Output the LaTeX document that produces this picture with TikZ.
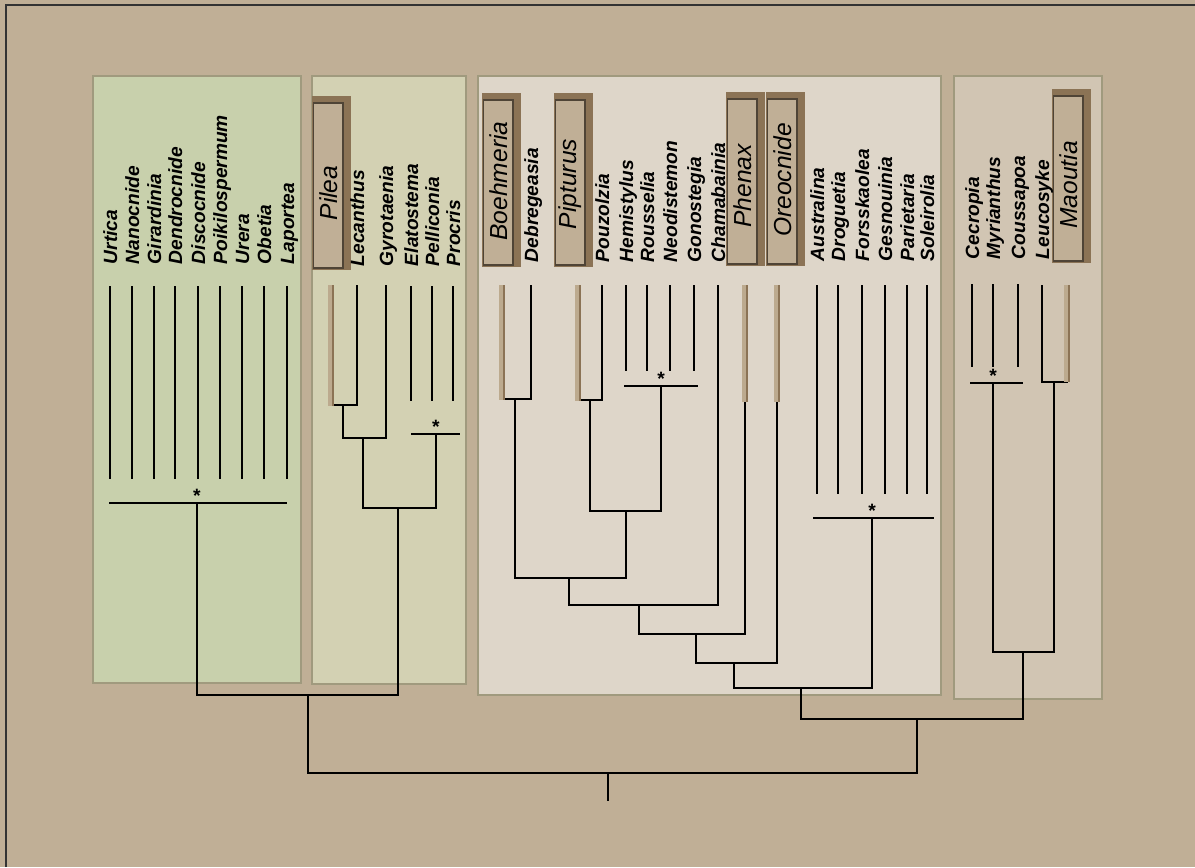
\documentclass[tikz,border=0pt]{standalone}
\usepackage{fontspec}
\setmainfont{Liberation Sans}
\usepackage[dvipsnames]{xcolor}
\usepackage{tikz}
\usetikzlibrary{positioning}

\definecolor{bgtan}{HTML}{C0AF96}
\definecolor{panelA}{HTML}{C8D0AC}
\definecolor{panelB}{HTML}{D3D1B3}
\definecolor{panelC}{HTML}{DED6C9}
\definecolor{panelD}{HTML}{D1C5B3}
\definecolor{panelrim}{HTML}{A09A7E}
\definecolor{boxdark}{HTML}{8B7355}
\definecolor{boxrim}{HTML}{4F4436}
\definecolor{barlight}{HTML}{BCAA8E}
\definecolor{framerim}{HTML}{333333}

\begin{document}
\begin{tikzpicture}[
    % 定義樣式
    x=0.02cm, y=-0.02cm,
    line width=1.1pt,
    taxon/.style={rotate=90, anchor=base west, inner sep=0pt, font=\fontsize{10.9}{13}\selectfont\bfseries\itshape},
    genus/.style={rotate=90, inner sep=0pt, font=\fontsize{14}{17}\selectfont\itshape},
    polymark/.style={inner sep=0pt, font=\fontsize{11}{13}\selectfont\bfseries},
    panel/.style={draw=panelrim, line width=0.7pt},
    box face/.style={fill=bgtan, draw=boxrim, line width=0.6pt}
]

    % 屬名長條的位置 (名稱 / x / 下端)
    \def\genusbars{Pilea/331/406, Boehmeria/502/400, Pipturus/578/401, Phenax/745/402, Oreocnide/777/402, Maoutia/1067/382}

    % --- 0. 背景與外框 ---
    \useasboundingbox (0,0) rectangle (1195,867);
    \fill[bgtan] (0,0) rectangle (1195,867);
    \coordinate (frame-bl) at (6,867);
    \coordinate (frame-tl) at (6,5);
    \coordinate (frame-tr) at (1195,5);
    \draw[framerim, line width=1.2pt] (frame-bl) -- (frame-tl) -- (frame-tr);

    % --- 1. 四個分區 ---
    \filldraw[panel, fill=panelA] (93,76) rectangle (301,683);
    \filldraw[panel, fill=panelB] (312,76) rectangle (466,684);
    \filldraw[panel, fill=panelC] (478,76) rectangle (941,695);
    \filldraw[panel, fill=panelD] (954,76) rectangle (1102,699);

    % --- 2. 屬名方框 ---
    \foreach \name/\xl/\yt/\ty in {Pilea/312/96/193, Boehmeria/482/93/181, Pipturus/554/93/184, Phenax/726/92/186, Oreocnide/766/92/180, Maoutia/1052/89/185} {
        \fill[boxdark] (\xl,\yt) rectangle ++(38.5,174);
        \draw[box face] (\xl+1.5,\yt+7) rectangle ++(29.5,165);
        \node[genus] (\name) at (\xl+16.25,\ty) {\name};
    }

    % --- 3. 末端分類群 ---
    % 未解析的類群
    \foreach \name/\x in {Urtica/110, Nanocnide/132, Girardinia/154, Dendrocnide/175, Discocnide/198, Poikilospermum/220, Urera/242, Obetia/264, Laportea/287} {
        \node[taxon] (\name) at (\x+7,265) {\name};
        \coordinate (\name-top) at (\x,286);
        \coordinate (\name-end) at (\x,479);
        \draw (\name-top) -- (\name-end);
    }
    \foreach \name/\x in {Elatostema/411, Pelliconia/432, Procris/453} {
        \node[taxon] (\name) at (\x+7,267) {\name};
        \coordinate (\name-top) at (\x,286);
        \coordinate (\name-end) at (\x,401);
        \draw (\name-top) -- (\name-end);
    }
    \foreach \name/\x in {Hemistylus/626, Rousselia/647, Neodistemon/670, Gonostegia/694} {
        \node[taxon] (\name) at (\x+7,263) {\name};
        \coordinate (\name-top) at (\x,285);
        \coordinate (\name-end) at (\x,371);
        \draw (\name-top) -- (\name-end);
    }
    \foreach \name/\x in {Australina/817, Droguetia/838, Forsskaolea/862, Gesnouinia/885, Parietaria/907, Soleirolia/927} {
        \node[taxon] (\name) at (\x+7,262) {\name};
        \coordinate (\name-top) at (\x,285);
        \coordinate (\name-end) at (\x,494);
        \draw (\name-top) -- (\name-end);
    }
    \foreach \name/\x in {Cecropia/972, Myrianthus/993, Coussapoa/1018} {
        \node[taxon] (\name) at (\x+7,260) {\name};
        \coordinate (\name-top) at (\x,284);
        \coordinate (\name-end) at (\x,367);
        \draw (\name-top) -- (\name-end);
    }
    % 已解析的末端
    \foreach \name/\x/\y in {Lecanthus/357/267, Gyrotaenia/386/267, Debregeasia/531/263, Pouzolzia/602/263, Chamabainia/718/263, Leucosyke/1042/260} {
        \node[taxon] (\name) at (\x+7,\y) {\name};
        \coordinate (\name-top) at (\x,285);
    }
    \foreach \name/\x/\e in \genusbars {
        \coordinate (\name-top) at (\x,285);
        \coordinate (\name-end) at (\x,\e);
    }

    % --- 4. 多分叉橫線與星號 ---
    \coordinate (urt-l) at (109,503); \coordinate (urt-r) at (287,503); \coordinate (urt) at (197,503);
    \coordinate (ela-l) at (411,434); \coordinate (ela-r) at (460,434); \coordinate (ela) at (436,434);
    \coordinate (hem-l) at (624,386); \coordinate (hem-r) at (698,386); \coordinate (hem) at (661,386);
    \coordinate (aus-l) at (813,518); \coordinate (aus-r) at (934,518); \coordinate (aus) at (872,518);
    \coordinate (cec-l) at (970,383); \coordinate (cec-r) at (1023,383); \coordinate (cec) at (993,383);
    \foreach \g in {urt,ela,hem,aus,cec} {
        \draw (\g-l) -- (\g-r);
        \node[polymark, above=0pt of \g] (s-\g) {*};
    }

    % --- 5. 內部節點 ---
    \coordinate (pl1) at (343,405);
    \coordinate (pl2) at (363,438);
    \coordinate (pl3) at (398,508);
    \coordinate (lft) at (308,695);
    \coordinate (bo1) at (515,399);
    \coordinate (bo2) at (590,400);
    \coordinate (bo3) at (626,511);
    \coordinate (bo4) at (569,578);
    \coordinate (bo5) at (639,605);
    \coordinate (bo6) at (696,634);
    \coordinate (bo7) at (734,663);
    \coordinate (bo8) at (801,688);
    \coordinate (ma1) at (1054,382);
    \coordinate (ce1) at (1023,652);
    \coordinate (rt2) at (917,719);
    \coordinate (root) at (608,773);
    \coordinate (root-end) at (608,801);

    % --- 6. 連接線 ---
    \draw (Pilea-top) |- (pl1) -| (Lecanthus-top);
    \draw (pl1) |- (pl2) -| (Gyrotaenia-top);
    \draw (pl2) |- (pl3) -| (ela);
    \draw (urt) |- (lft) -| (pl3);
    \draw (Boehmeria-top) |- (bo1) -| (Debregeasia-top);
    \draw (Pipturus-top) |- (bo2) -| (Pouzolzia-top);
    \draw (bo2) |- (bo3) -| (hem);
    \draw (bo1) |- (bo4) -| (bo3);
    \draw (bo4) |- (bo5) -| (Chamabainia-top);
    \draw (bo5) |- (bo6) -| (Phenax-top);
    \draw (bo6) |- (bo7) -| (Oreocnide-top);
    \draw (bo7) |- (bo8) -| (aus);
    \draw (Leucosyke-top) |- (ma1) -| (Maoutia-top);
    \draw (cec) |- (ce1) -| (ma1);
    \draw (bo8) |- (rt2) -| (ce1);
    \draw (lft) |- (root) -| (rt2);
    \draw (root) -- (root-end);

    % --- 7. 屬名長條 (蓋在線上) ---
    \foreach \name/\x/\e in \genusbars {
        \fill[barlight] (\x-3,285) rectangle (\x+1,\e);
        \fill[boxdark] (\x+1,285) rectangle (\x+3,\e);
    }

\end{tikzpicture}
\end{document}
